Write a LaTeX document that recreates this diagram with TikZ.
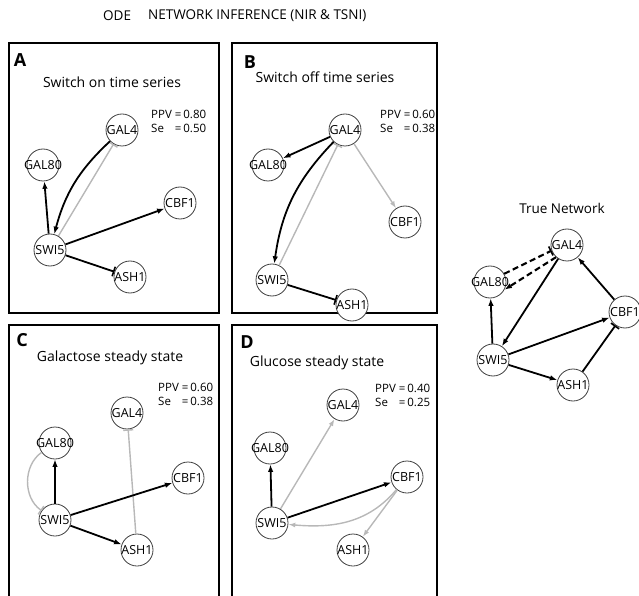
\documentclass[tikz,border=0pt]{standalone}
\usepackage{fontspec}
\setmainfont{Open Sans}
\usetikzlibrary{arrows.meta}
\begin{document}
\begin{tikzpicture}[x=1pt,y=1pt,
  gene/.style={circle, draw=black!75, line width=0.8pt, minimum size=32pt,
    inner sep=0pt, fill=white, font=\fontsize{12.5}{12.5}\selectfont},
  act/.style={line width=1.8pt, -{Latex[length=7.5pt,width=5.5pt]}},
  inh/.style={line width=1.8pt, -{Bar[width=10pt,line width=1.6pt]}},
  faint/.style={draw=black!28, line width=1.4pt},
  fbar/.style={-{Bar[width=10pt,line width=1.4pt]}},
  farr/.style={-{Latex[length=7pt,width=5pt]}},
  dashedline/.style={line width=2.1pt, dash pattern=on 6pt off 3.5pt},
  panel/.style={draw, line width=1.8pt},
  letter/.style={font=\fontsize{18}{18}\selectfont\bfseries},
  heading/.style={font=\fontsize{14}{14}\selectfont},
  toptitle/.style={anchor=west, inner sep=0pt, font=\fontsize{13.5}{13.5}\selectfont},
  score/.style={anchor=west, inner sep=0pt, font=\fontsize{11.5}{14}\selectfont},
]
\useasboundingbox (0,0) rectangle (639,595);
\newcommand{\gn}[1]{\makebox[0pt]{#1}}
\newcommand{\scores}[2]{\begin{tabular}{@{}l@{\hspace{3pt}}l@{}}PPV&=\,#1\\ Se&=\,#2\end{tabular}}

% title line
\node[toptitle] (odet) at (103,579) {ODE};
\node[toptitle] (nit) at (148,579) {NETWORK INFERENCE (NIR \& TSNI)};

% panel frames
\draw[panel] (9,552) rectangle (219,282);
\draw[panel] (232,552) rectangle (437,282);
\draw[panel] (9,270) rectangle (219,-5);
\draw[panel] (232,270) rectangle (437,-5);

% ---------- A: switch on time series
\node[letter] (la) at (20,535) {A};
\node[heading] (ta) at (112,513) {Switch on time series};
\node[score] (sa) at (151,472) {\scores{0.80}{0.50}};
\node[gene] (a4)  at (122,465) {\gn{GAL4}};
\node[gene] (a80) at (43,430)  {\gn{GAL80}};
\node[gene] (ac)  at (180,392) {\gn{CBF1}};
\node[gene] (as)  at (50,345)  {\gn{SWI5}};
\node[gene] (aa)  at (130,318) {\gn{ASH1}};
\draw[faint, fbar] (as) -- (a4);
\draw[act] (as) -- (a80);
\draw[act] (a4) to[bend right=16] (as);
\draw[act] (as) -- (ac);
\draw[inh] (as) -- (aa);

% ---------- B: switch off time series
\node[letter] (lb) at (250,533) {B};
\node[heading] (tb) at (325,518) {Switch off time series};
\node[score] (sb) at (380,472) {\scores{0.60}{0.38}};
\node[gene] (b4)  at (345,465) {\gn{GAL4}};
\node[gene] (b80) at (268,430) {\gn{GAL80}};
\node[gene] (bc)  at (405,373) {\gn{CBF1}};
\node[gene] (bs)  at (272,315) {\gn{SWI5}};
\node[gene] (ba)  at (352,290) {\gn{ASH1}};
\draw[faint, fbar] (bs) -- (b4);
\draw[faint, farr] (b4) -- (bc);
\draw[act] (b4) -- (b80);
\draw[act] (b4) to[bend right=18] (bs);
\draw[inh] (bs) -- (ba);

% ---------- C: galactose steady state
\node[letter] (lc) at (22,255) {C};
\node[heading] (tc) at (110,237) {Galactose steady state};
\node[score] (sc) at (158,199) {\scores{0.60}{0.38}};
\node[gene] (c4)  at (127,182) {\gn{GAL4}};
\node[gene] (c80) at (55,152)  {\gn{GAL80}};
\node[gene] (cc)  at (188,117) {\gn{CBF1}};
\node[gene] (cs)  at (55,75)   {\gn{SWI5}};
\node[gene] (ca)  at (137,45)  {\gn{ASH1}};
\draw[faint, fbar] (c80) to[out=215,in=145] (cs);
\draw[faint, fbar] (ca) -- (c4);
\draw[act] (cs) -- (c80);
\draw[act] (cs) -- (cc);
\draw[act] (cs) -- (ca);

% ---------- D: glucose steady state
\node[letter] (ld) at (247,253) {D};
\node[heading] (td) at (317,232) {Glucose steady state};
\node[score] (sd) at (375,198) {\scores{0.40}{0.25}};
\node[gene] (d4)  at (343,190) {\gn{GAL4}};
\node[gene] (d80) at (270,147) {\gn{GAL80}};
\node[gene] (dc)  at (407,118) {\gn{CBF1}};
\node[gene] (ds)  at (272,72)  {\gn{SWI5}};
\node[gene] (da)  at (353,45)  {\gn{ASH1}};
\draw[faint, farr] (ds) -- (d4);
\draw[faint, farr] (dc) to[out=230,in=-5] (ds);
\draw[faint, farr] (dc) -- (da);
\draw[act] (ds) -- (d80);
\draw[act] (ds) -- (dc);

% ---------- true network
\node[font=\fontsize{13.5}{13.5}\selectfont] (tt) at (562,387) {True Network};
\node[gene] (t4)  at (567,350) {\gn{GAL4}};
\node[gene] (t80) at (490,313) {\gn{GAL80}};
\node[gene] (tc)  at (625,283) {\gn{CBF1}};
\node[gene] (ts)  at (493,235) {\gn{SWI5}};
\node[gene] (ta1) at (573,210) {\gn{ASH1}};
\draw[inh, dashedline] (t80.30) -- (t4.200);
\draw[act, dashedline] (t4.228) -- (t80.-28);
\draw[act] (t4) -- (ts);
\draw[act] (tc) -- (t4);
\draw[act] (ts) -- (t80);
\draw[act] (ts) -- (tc);
\draw[act] (ts) -- (ta1);
\draw[inh] (ta1) -- (tc);
\end{tikzpicture}
\end{document}
